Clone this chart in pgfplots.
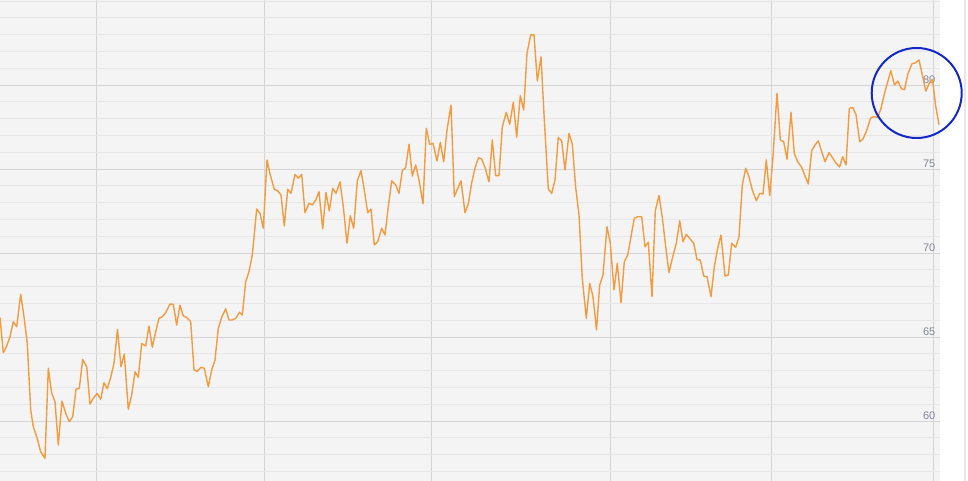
\documentclass[border=0pt]{standalone}
\usepackage{pgfplots}
\pgfplotsset{compat=1.18}
\usepackage{fontspec}
\setmainfont{Liberation Sans}
\definecolor{bgc}{RGB}{244,244,244}
\definecolor{majg}{RGB}{212,212,212}
\definecolor{ming}{RGB}{231,231,231}
\definecolor{linec}{RGB}{242,155,65}
\definecolor{labc}{RGB}{130,135,148}
\definecolor{circc}{RGB}{20,40,200}
\begin{document}
\begin{tikzpicture}
\useasboundingbox (0,0) rectangle (968pt,481pt);
\begin{axis}[
  at={(0,0)}, anchor=south west,
  width=940pt, height=481pt, scale only axis,
  xmin=0, xmax=940, ymin=56.43, ymax=85.06,
  axis line style={draw=none},
  axis background/.style={fill=bgc},
  major tick length=0pt, minor tick length=0pt,
  xtick={96,264,431,610,771,933}, xticklabels={},
  ytick={60,65,70,75,80},
  minor ytick={56,57,...,85},
  yticklabel pos=right,
  /pgf/number format/assume math mode=true,
  yticklabel style={anchor=south east, inner sep=1.5pt, xshift=-3pt, font=\fontsize{11}{13}\selectfont, text=labc},
  xmajorgrids, ymajorgrids, yminorgrids,
  major grid style={draw=majg, line width=0.8pt},
  minor grid style={draw=ming, line width=0.8pt},
  clip=true,
]
\addplot[color=linec, line width=1.4pt, mark=none, line join=round] table {
0 66.17
3.3 64.07
6.7 64.46
10 65.02
13.3 65.91
16.7 65.61
20.7 67.54
24 66.21
27.3 64.62
30.7 60.65
33.3 59.66
36.7 59.07
40.7 58.17
45 57.78
48.3 63.14
51.7 61.65
55 61.15
58.3 58.57
62 61.19
65.7 60.46
69.3 59.96
72.7 60.26
76 61.89
79.3 61.95
82.7 63.67
86.7 63.23
90 61.01
93.3 61.35
97.3 61.65
100.7 61.29
104 62.28
107.3 61.92
110.7 62.60
114 63.43
117.5 65.46
121 63.23
124.3 63.99
128.3 60.70
131.7 61.55
135 62.93
138.3 62.60
141.7 64.62
145.7 64.46
149 65.65
152.3 64.39
155.7 65.32
159 66.11
162.3 66.21
165.7 66.45
170 66.96
173.3 66.95
176.7 65.71
180 66.90
183.3 66.25
186.7 66.17
190.7 65.91
194 63.04
197.3 62.96
201 63.20
204.3 63.14
208.3 62.04
211.7 63.04
215 63.63
218.3 65.52
221.7 66.17
225.7 66.68
229 66.01
232.3 66.01
235.7 66.11
239.5 66.47
242.3 66.31
245.7 68.29
249 68.89
252.3 69.88
256.7 72.62
260 72.36
263.3 71.47
267 75.54
270.3 74.64
274.3 73.79
277.7 73.71
281 73.45
284.3 71.61
287.7 73.79
291 73.55
295 74.68
298.3 74.45
301.7 74.68
305 72.40
309 72.96
312.3 72.86
315.7 73.15
319 73.65
322.7 71.43
326 73.61
329.3 72.50
332.7 73.85
336 73.55
340 74.24
343.3 72.76
347 70.58
350.3 72.22
353.7 71.47
357.3 74.29
361 74.90
364.3 73.75
367.7 72.40
371 72.62
374.3 70.48
377.7 70.67
381.7 71.47
385 71.07
388.3 72.76
391.7 74.30
395.7 74.05
399 73.55
402.3 74.90
405.7 75.10
409 76.47
412.3 74.58
415.7 75.24
419 74.35
423 72.92
426.3 77.42
429.7 76.47
433 76.53
437 75.48
440.3 76.59
443.7 75.43
447 77.32
451 78.81
454.3 73.35
457.7 73.85
461 74.30
465 72.40
468.3 72.92
471.7 74.18
475 75.06
478.5 75.67
481.7 75.60
485 75.08
489 74.24
492.3 76.73
495.7 74.60
499 74.60
502.3 77.52
506.3 78.37
509.7 77.66
513.3 78.97
516.7 76.89
520.3 79.36
523.7 78.51
527 81.89
530.7 82.98
534 82.98
537.3 80.24
541 81.68
544.3 77.92
548.3 73.81
551.7 73.55
555 74.35
558.3 76.89
561.7 76.67
565 74.94
569 77.12
572.3 76.47
575.7 73.89
579 72.26
582.3 68.49
586.3 66.11
589.7 68.20
593 67.40
596.5 65.42
599.7 68.10
603 68.69
607 71.57
610.3 70.58
614 67.80
617.3 69.39
621 67.04
624.3 69.48
627.7 69.88
631 70.97
634.3 72.07
637.7 72.16
641.7 72.16
645 70.37
648.3 70.64
652 67.40
655.3 72.52
659 73.43
662.3 72.12
665.7 70.37
669 68.83
672.3 69.68
676.3 70.58
679.7 71.92
683 70.67
686.3 71.11
689.7 70.87
693.7 70.58
697 69.62
700.3 69.58
703.7 68.63
707 68.59
711 67.40
714.3 69.18
717.7 70.30
721 71.07
725 68.63
728.3 68.69
731.7 70.58
735.7 70.34
739 70.97
742.3 74.05
745.7 75.04
749 74.54
752.3 73.75
756.3 73.11
759.7 73.55
763 73.51
766.3 75.54
769.7 73.41
773 75.73
777 79.51
780.3 76.73
783.7 76.62
787 75.58
791 78.37
794.3 75.93
797.7 75.43
801.7 75.10
805 74.58
808.3 74.11
811.7 76.09
815 76.43
818.3 76.68
821.7 76.03
825 75.43
829 75.97
832.3 75.70
835.7 75.37
839.5 75.12
842.7 75.73
846 75.24
849.3 78.61
852.7 78.67
856 78.24
859.7 76.62
863 76.79
866.3 77.23
870.5 78.02
873.8 78.12
877.8 78.07
881.2 78.66
884.5 79.51
887.5 80.14
890.8 80.85
894.5 80.00
897.8 80.24
901.5 79.77
904.5 79.72
907.8 80.64
912 81.27
915.3 81.31
919 81.49
922.5 80.55
925.8 79.63
929.2 80.10
932.5 80.34
935.5 78.81
939 77.64
};
\end{axis}
\draw[draw=ming, line width=2pt] (965pt,0pt) -- (965pt,481pt);
\draw[draw=circc, line width=2pt] (916.7pt,388pt) circle[radius=45pt];
\end{tikzpicture}
\end{document}
